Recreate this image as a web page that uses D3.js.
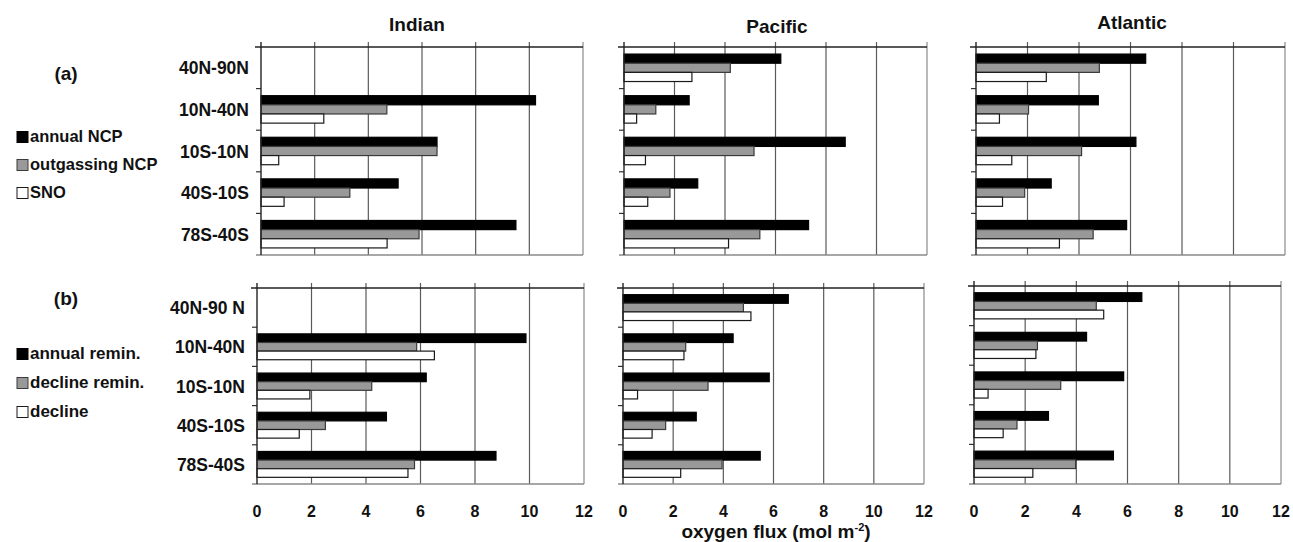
<!DOCTYPE html>
<html><head><meta charset="utf-8">
<script src="https://cdn.jsdelivr.net/npm/d3@7"></script>
<style>
html,body{margin:0;padding:0;background:#fff;}
text{font-family:"Liberation Sans",Arial,sans-serif;}
</style></head>
<body>
<svg id="chart" width="1293" height="542"></svg>
<script>
// ---------- data ----------
const oceans = ["Indian", "Pacific", "Atlantic"];
const categoriesA = ["40N-90N", "10N-40N", "10S-10N", "40S-10S", "78S-40S"];
const categoriesB = ["40N-90 N", "10N-40N", "10S-10N", "40S-10S", "78S-40S"];
const seriesA = ["annual NCP", "outgassing NCP", "SNO"];
const seriesB = ["annual remin.", "decline remin.", "decline"];
const tickValues = [0, 2, 4, 6, 8, 10, 12];
const axisTitle = "oxygen flux (mol m";

// panel (a) values: [annual NCP, outgassing NCP, SNO] per category
const indianA_annual = [null, 10.23, 6.56, 5.11, 9.5];
const indianA_outgas = [null, 4.69, 6.56, 3.31, 5.89];
const indianA_sno    = [null, 2.34, 0.66, 0.86, 4.7];
const pacificA_annual = [6.21, 2.58, 8.76, 2.92, 7.31];
const pacificA_outgas = [4.21, 1.26, 5.15, 1.82, 5.38];
const pacificA_sno    = [2.69, 0.5, 0.85, 0.94, 4.14];
const atlanticA_annual = [6.59, 4.75, 6.21, 2.92, 5.85];
const atlanticA_outgas = [4.79, 2.04, 4.1, 1.89, 4.55];
const atlanticA_sno    = [2.73, 0.91, 1.39, 1.03, 3.24];

// panel (b) values: [annual remin., decline remin., decline]
const indianB_annual  = [null, 9.87, 6.21, 4.75, 8.77];
const indianB_decrem  = [null, 5.86, 4.21, 2.51, 5.78];
const indianB_decline = [null, 6.51, 1.94, 1.55, 5.54];
const pacificB_annual  = [6.59, 4.39, 5.83, 2.92, 5.47];
const pacificB_decrem  = [4.8, 2.5, 3.39, 1.7, 3.95];
const pacificB_decline = [5.1, 2.43, 0.58, 1.16, 2.3];
const atlanticB_annual  = [6.56, 4.4, 5.85, 2.91, 5.45];
const atlanticB_decrem  = [4.78, 2.48, 3.39, 1.68, 3.97];
const atlanticB_decline = [5.07, 2.42, 0.55, 1.14, 2.3];

// ---------- layout ----------
const svg = d3.select("#chart");
const fills = ["#000000", "#999999", "#ffffff"];
const strokes = ["#000000", "#3a3a3a", "#1a1a1a"];

const panels = [
  {row:"a", ocean:0, x0:261, x1:583, top:47, bottom:255, cats:categoriesA, vals:[indianA_annual, indianA_outgas, indianA_sno]},
  {row:"a", ocean:1, x0:624, x1:927, top:47, bottom:255, cats:categoriesA, vals:[pacificA_annual, pacificA_outgas, pacificA_sno]},
  {row:"a", ocean:2, x0:976, x1:1285, top:47, bottom:255, cats:categoriesA, vals:[atlanticA_annual, atlanticA_outgas, atlanticA_sno]},
  {row:"b", ocean:0, x0:257, x1:584, top:288, bottom:484, cats:categoriesB, vals:[indianB_annual, indianB_decrem, indianB_decline]},
  {row:"b", ocean:1, x0:623, x1:924, top:288, bottom:484, cats:categoriesB, vals:[pacificB_annual, pacificB_decrem, pacificB_decline]},
  {row:"b", ocean:2, x0:974, x1:1281, top:286, bottom:484, cats:categoriesB, vals:[atlanticB_annual, atlanticB_decrem, atlanticB_decline]}
];

panels.forEach(p => {
  const g = svg.append("g");
  const x = d3.scaleLinear().domain([0, 12]).range([p.x0, p.x1]);
  const y = d3.scaleBand().domain(p.cats).range([p.top, p.bottom]).paddingInner(0.34).paddingOuter(0.17);
  const ys = d3.scaleBand().domain([0, 1, 2]).range([0, y.bandwidth()]);
  const step = y.step();

  // vertical gridlines (with small upward ticks)
  g.selectAll(".grid").data(tickValues.filter(v => v > 0)).join("line")
    .attr("x1", d => x(d)).attr("x2", d => x(d))
    .attr("y1", p.top - 5).attr("y2", p.bottom)
    .attr("stroke", d => d === 12 ? "#8a8a8a" : "#5a5a5a").attr("stroke-width", 1.2);
  // bottom border
  g.append("line").attr("x1", p.x0 - 5).attr("x2", p.x1).attr("y1", p.bottom).attr("y2", p.bottom)
    .attr("stroke", "#8a8a8a").attr("stroke-width", 1.4);
  // top border
  g.append("line").attr("x1", p.x0 - 6).attr("x2", p.x1).attr("y1", p.top).attr("y2", p.top)
    .attr("stroke", "#222").attr("stroke-width", 1.3);
  // category boundary ticks
  g.selectAll(".ctick").data(d3.range(1, p.cats.length)).join("line")
    .attr("x1", p.x0 - 5).attr("x2", p.x0)
    .attr("y1", i => p.top + i * step).attr("y2", i => p.top + i * step)
    .attr("stroke", "#333").attr("stroke-width", 1.2);

  // bars
  p.vals.forEach((arr, s) => {
    g.selectAll(".bar" + s).data(p.cats.map((c, i) => ({c, v: arr[i]})).filter(d => d.v != null)).join("rect")
      .attr("x", x(0))
      .attr("y", d => y(d.c) + ys(s))
      .attr("width", d => x(d.v) - x(0))
      .attr("height", ys.bandwidth())
      .attr("fill", fills[s]).attr("stroke", strokes[s]).attr("stroke-width", 1.2);
  });

  // left axis line
  g.append("line").attr("x1", p.x0).attr("x2", p.x0).attr("y1", p.top - 5).attr("y2", p.bottom)
    .attr("stroke", "#222").attr("stroke-width", 1.4);

  // category labels (only for Indian column)
  if (p.ocean === 0) {
    g.selectAll(".clabel").data(p.cats).join("text")
      .attr("x", p.x0 - 12).attr("y", d => y(d) + y.bandwidth() / 2 + 2)
      .attr("text-anchor", "end").attr("dominant-baseline", "middle")
      .attr("font-size", 17.5).attr("font-weight", "bold").attr("fill", "#111")
      .text(d => d);
  }
  // x tick labels under row b
  if (p.row === "b") {
    g.selectAll(".xlabel").data(tickValues).join("text")
      .attr("x", d => x(d)).attr("y", 517)
      .attr("text-anchor", "middle")
      .attr("font-size", 16).attr("font-weight", "bold").attr("fill", "#111")
      .text(d => d);
  }
});

// ocean titles
const titleX = [417, 777, 1132];
const titleY = [31, 33, 29];
svg.selectAll(".title").data(oceans).join("text")
  .attr("x", (d, i) => titleX[i]).attr("y", (d, i) => titleY[i])
  .attr("text-anchor", "middle").attr("font-size", 19).attr("font-weight", "bold").attr("fill", "#111")
  .text(d => d);

// panel labels
svg.append("text").attr("x", 66).attr("y", 80).attr("text-anchor", "middle")
  .attr("font-size", 19).attr("font-weight", "bold").attr("fill", "#111").text("(a)");
svg.append("text").attr("x", 66).attr("y", 305).attr("text-anchor", "middle")
  .attr("font-size", 19).attr("font-weight", "bold").attr("fill", "#111").text("(b)");

// legends
function legend(names, y0, dy, fs) {
  names.forEach((n, i) => {
    const yy = y0 + i * dy;
    svg.append("rect").attr("x", 17).attr("y", yy - 5.5).attr("width", 11).attr("height", 11)
      .attr("fill", fills[i]).attr("stroke", strokes[i]).attr("stroke-width", 1);
    svg.append("text").attr("x", 30).attr("y", yy + 1).attr("dominant-baseline", "middle")
      .attr("font-size", fs).attr("font-weight", "bold").attr("fill", "#111").text(n);
  });
}
legend(seriesA, 137, 28, 16.5);
legend(seriesB, 354, 29, 17);

// axis title
const at = svg.append("text").attr("x", 776).attr("y", 538).attr("text-anchor", "middle")
  .attr("font-size", 19).attr("font-weight", "bold").attr("fill", "#111");
at.append("tspan").text(axisTitle);
at.append("tspan").attr("dy", -7).attr("font-size", 11).text("-2");
at.append("tspan").attr("dy", 7).text(")");
</script>
</body></html>
